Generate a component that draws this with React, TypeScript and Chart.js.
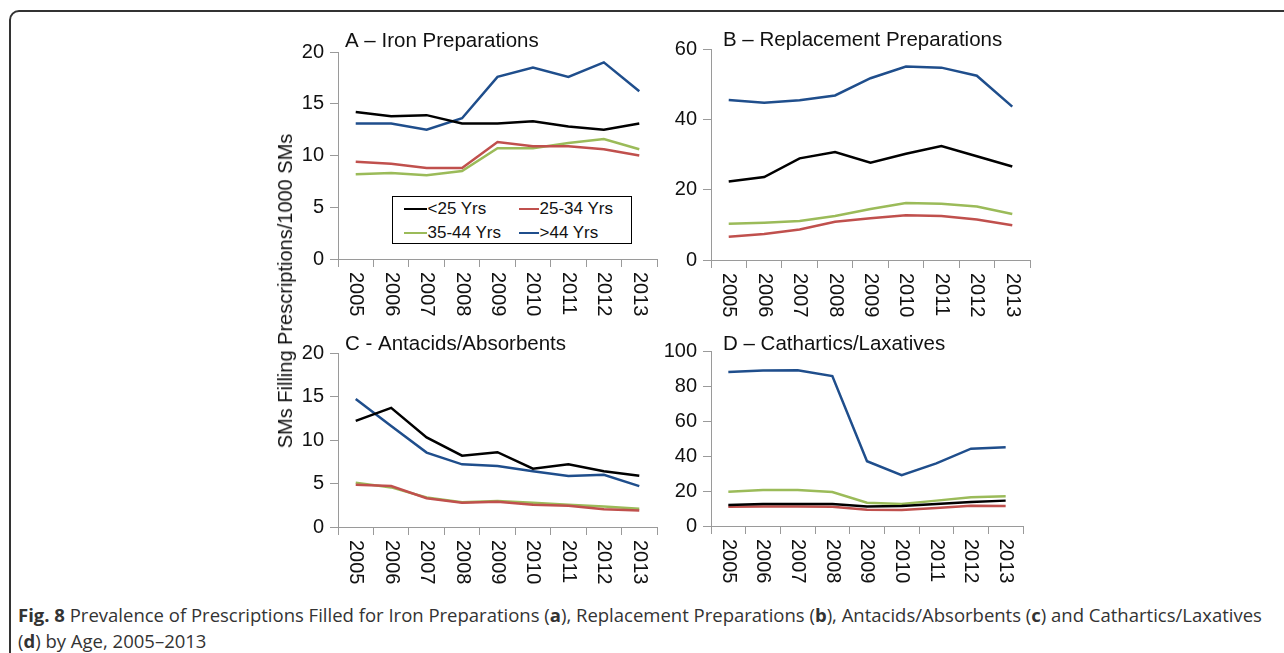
import React, { useEffect, useRef } from "react";
import { Chart, registerables } from "chart.js";

Chart.register(...registerables);

// ---------- data ----------
const years = ["2005", "2006", "2007", "2008", "2009", "2010", "2011", "2012", "2013"];
const seriesNames = ["<25 Yrs", "25-34 Yrs", "35-44 Yrs", ">44 Yrs"];
const seriesColors = ["#000000", "#c0504d", "#9bbb59", "#1f4e8c"];

// A – Iron Preparations
const ironUnder25 = [14.2, 13.8, 13.9, 13.1, 13.1, 13.3, 12.8, 12.5, 13.1];
const iron25to34 = [9.4, 9.2, 8.8, 8.8, 11.3, 10.9, 10.9, 10.6, 10.0];
const iron35to44 = [8.2, 8.3, 8.1, 8.5, 10.7, 10.7, 11.2, 11.6, 10.6];
const ironOver44 = [13.1, 13.1, 12.5, 13.6, 17.6, 18.5, 17.6, 19.0, 16.2];

// B – Replacement Preparations
const replUnder25 = [22.3, 23.6, 28.9, 30.7, 27.7, 30.2, 32.4, 29.5, 26.6];
const repl25to34 = [6.6, 7.4, 8.7, 10.9, 11.9, 12.7, 12.5, 11.5, 9.9];
const repl35to44 = [10.3, 10.6, 11.1, 12.5, 14.5, 16.2, 16.0, 15.2, 13.1];
const replOver44 = [45.5, 44.7, 45.4, 46.8, 51.7, 55.0, 54.7, 52.4, 43.6];

// C - Antacids/Absorbents
const antUnder25 = [12.2, 13.7, 10.3, 8.2, 8.6, 6.7, 7.2, 6.4, 5.9];
const ant25to34 = [4.85, 4.7, 3.3, 2.8, 2.9, 2.55, 2.45, 2.05, 1.9];
const ant35to44 = [5.1, 4.55, 3.4, 2.85, 3.0, 2.8, 2.55, 2.35, 2.1];
const antOver44 = [14.7, 11.6, 8.55, 7.2, 7.0, 6.4, 5.85, 6.0, 4.7];

// D – Cathartics/Laxatives
const cathUnder25 = [12.0, 12.6, 12.6, 12.6, 11.2, 11.4, 12.6, 13.7, 14.5];
const cath25to34 = [11.0, 11.2, 11.2, 11.0, 9.3, 9.1, 10.3, 11.6, 11.4];
const cath35to44 = [19.6, 20.6, 20.6, 19.4, 13.3, 12.6, 14.5, 16.4, 17.0];
const cathOver44 = [88.0, 88.8, 89.0, 85.7, 37.0, 29.0, 35.8, 44.2, 45.0];

const panelTitles = [
  "A – Iron Preparations",
  "B – Replacement Preparations",
  "C - Antacids/Absorbents",
  "D – Cathartics/Laxatives",
];
const panelMax = [20, 60, 20, 100];
const panelStep = [5, 20, 5, 20];
const panelSeries = [
  [ironUnder25, iron25to34, iron35to44, ironOver44],
  [replUnder25, repl25to34, repl35to44, replOver44],
  [antUnder25, ant25to34, ant35to44, antOver44],
  [cathUnder25, cath25to34, cath35to44, cathOver44],
];

const yAxisTitle = "SMs Filling Prescriptions/1000 SMs";
const captionLine1 = [
  { t: "Fig. 8", b: true },
  { t: " Prevalence of Prescriptions Filled for Iron Preparations (", b: false },
  { t: "a", b: true },
  { t: "), Replacement Preparations (", b: false },
  { t: "b", b: true },
  { t: "), Antacids/Absorbents (", b: false },
  { t: "c", b: true },
  { t: ") and Cathartics/Laxatives", b: false },
];
const captionLine2 = [
  { t: "(", b: false },
  { t: "d", b: true },
  { t: ") by Age, 2005–2013", b: false },
];

// ---------- layout (positions only) ----------
const FONT = '"Liberation Sans", Arial, Helvetica, sans-serif';
const layouts = [
  { left: 270, top: 0, width: 400, height: 340, yWidth: 68, padTop: 52, padRight: 13, xHeight: 81, titleDx: 7, titleDy: 11 },
  { left: 640, top: 0, width: 400, height: 340, yWidth: 71, padTop: 49, padRight: 10, xHeight: 80, titleDx: 12, titleDy: 9 },
  { left: 270, top: 300, width: 400, height: 300, yWidth: 68, padTop: 53, padRight: 13, xHeight: 73, titleDx: 7, titleDy: 9 },
  { left: 640, top: 300, width: 400, height: 300, yWidth: 71, padTop: 51, padRight: 17, xHeight: 74, titleDx: 12, titleDy: 7 },
];

const panelText = {
  id: "panelText",
  afterDraw(chart: any, _args: any, opts: any) {
    const ctx = chart.ctx;
    const ca = chart.chartArea;
    ctx.save();
    ctx.fillStyle = "#111";
    ctx.font = `20.5px ${FONT}`;
    ctx.textAlign = "left";
    ctx.textBaseline = "middle";
    ctx.fillText(opts.title, ca.left + opts.titleDx, ca.top - opts.titleDy);
    ctx.font = `20px ${FONT}`;
    const xs = chart.scales.x;
    xs.ticks.forEach((_t: any, i: number) => {
      const x = xs.getPixelForTick(i);
      ctx.save();
      ctx.translate(x, ca.bottom + 13);
      ctx.rotate(Math.PI / 2);
      ctx.textAlign = "left";
      ctx.textBaseline = "middle";
      ctx.fillText(String(xs.getLabelForValue(i)), 0, 0);
      ctx.restore();
    });
    ctx.restore();
  },
};

function Panel({ idx }: { idx: number }) {
  const ref = useRef<HTMLCanvasElement | null>(null);
  const L = layouts[idx];
  useEffect(() => {
    if (!ref.current) return;
    const chart = new Chart(ref.current, {
      type: "line",
      data: {
        labels: years,
        datasets: panelSeries[idx].map((d, i) => ({
          label: seriesNames[i],
          data: d,
          borderColor: seriesColors[i],
          backgroundColor: seriesColors[i],
          borderWidth: 2.5,
          pointRadius: 0,
          tension: 0,
          fill: false,
        })),
      },
      options: {
        animation: false,
        responsive: false,
        maintainAspectRatio: false,
        events: [],
        layout: { padding: { top: L.padTop, right: L.padRight, left: 0, bottom: 0 } },
        plugins: {
          legend: { display: false },
          tooltip: { enabled: false },
          title: { display: false },
          panelText: { title: panelTitles[idx], titleDx: L.titleDx, titleDy: L.titleDy },
        } as any,
        scales: {
          x: {
            type: "category",
            offset: true,
            ticks: { display: false },
            grid: { display: true, offset: true, drawOnChartArea: false, drawTicks: true, tickLength: 8, color: "#9a9a9a", lineWidth: 1 },
            border: { display: true, color: "#9a9a9a", width: 1 },
            afterFit: (s: any) => { s.height = L.xHeight; },
          },
          y: {
            min: 0,
            max: panelMax[idx],
            ticks: { stepSize: panelStep[idx], color: "#111", padding: 6, font: { family: FONT, size: 20 } },
            grid: { display: true, drawOnChartArea: false, drawTicks: true, tickLength: 8, color: "#9a9a9a", lineWidth: 1 },
            border: { display: true, color: "#9a9a9a", width: 1 },
            afterFit: (s: any) => { s.width = L.yWidth; },
          },
        },
      },
      plugins: [panelText as any],
    });
    return () => chart.destroy();
  }, []);
  return (
    <canvas
      ref={ref}
      width={L.width}
      height={L.height}
      style={{ position: "absolute", left: L.left, top: L.top, width: L.width, height: L.height }}
    />
  );
}

export default function App() {
  const legendPos = [
    { x: 404, y: 209 },
    { x: 519, y: 209 },
    { x: 404, y: 233 },
    { x: 519, y: 233 },
  ];
  const lineLens = [23, 20, 23, 20];
  return (
    <div style={{ position: "fixed", left: 0, top: 0, width: 1284, height: 653, overflow: "hidden", background: "#fff" }}>
      <div
        style={{
          position: "absolute", left: 9, top: 10, width: 1320, height: 700,
          border: "2px solid #333", borderRadius: 10, boxSizing: "border-box",
        }}
      />
      {[0, 1, 2, 3].map((i) => <Panel key={i} idx={i} />)}
      <div
        style={{
          position: "absolute", left: 285, top: 291, transform: "translate(-50%, -50%) rotate(-90deg)",
          whiteSpace: "nowrap", fontFamily: FONT, fontSize: 20, color: "#111", lineHeight: "20px",
        }}
      >
        {yAxisTitle}
      </div>
      <div
        style={{
          position: "absolute", left: 392, top: 196, width: 240, height: 48,
          border: "1px solid #000", boxSizing: "border-box", background: "#fff",
        }}
      />
      {seriesNames.map((n, i) => (
        <React.Fragment key={n}>
          <div
            style={{
              position: "absolute", left: legendPos[i].x, top: legendPos[i].y - 1.25, width: lineLens[i], height: 2.5,
              background: seriesColors[i],
            }}
          />
          <div
            style={{
              position: "absolute", left: legendPos[i].x + lineLens[i] + 0.5, top: legendPos[i].y - 10, height: 20,
              lineHeight: "20px", fontFamily: FONT, fontSize: 17, color: "#111", whiteSpace: "nowrap",
            }}
          >
            {n}
          </div>
        </React.Fragment>
      ))}
      <div
        style={{
          position: "absolute", left: 18, top: 602, fontFamily: '"Open Sans", "Noto Sans", sans-serif', fontSize: 18.5,
          color: "#333", whiteSpace: "nowrap", lineHeight: "26px",
        }}
      >
        <div>{captionLine1.map((p, i) => (p.b ? <b key={i}>{p.t}</b> : <span key={i}>{p.t}</span>))}</div>
        <div>{captionLine2.map((p, i) => (p.b ? <b key={i}>{p.t}</b> : <span key={i}>{p.t}</span>))}</div>
      </div>
    </div>
  );
}
